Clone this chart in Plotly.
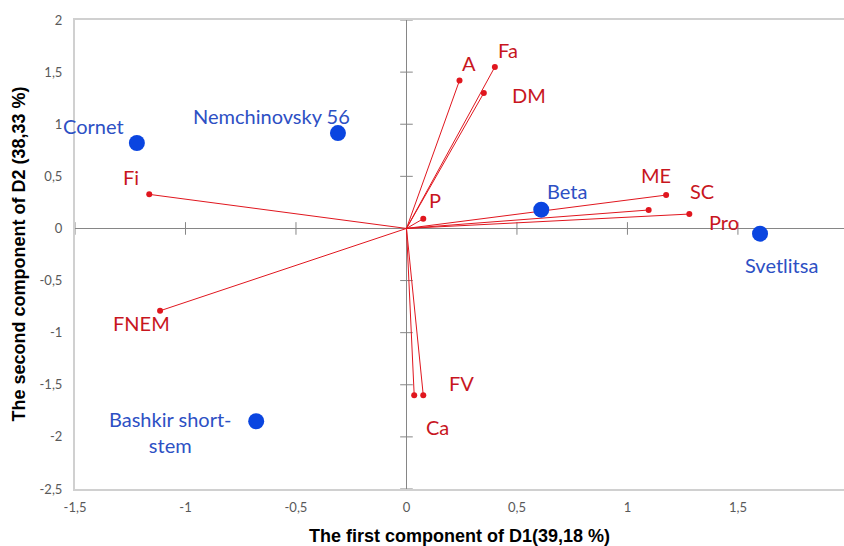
import plotly.graph_objects as go

# ---------------- data ----------------
cultivars = ["Cornet", "Nemchinovsky 56", "Beta", "Svetlitsa", "Bashkir short-<br>stem"]
cult_x = [-1.22, -0.31, 0.61, 1.60, -0.68]
cult_y = [0.82, 0.915, 0.18, -0.05, -1.85]

variables = ["A", "Fa", "DM", "P", "ME", "SC", "Pro", "Fi", "FNEM", "FV", "Ca"]
var_x = [0.24, 0.40, 0.35, 0.076, 1.175, 1.28, 1.096, -1.164, -1.115, 0.076, 0.035]
var_y = [1.42, 1.55, 1.30, 0.093, 0.32, 0.138, 0.177, 0.327, -0.79, -1.60, -1.60]

x_ticks = [-1.5, -1, -0.5, 0, 0.5, 1, 1.5]
x_tick_text = ["-1,5", "-1", "-0,5", "0", "0,5", "1", "1,5"]
y_ticks = [-2.5, -2, -1.5, -1, -0.5, 0, 0.5, 1, 1.5, 2]
y_tick_text = ["-2,5", "-2", "-1,5", "-1", "-0,5", "0", "0,5", "1", "1,5", "2"]

x_title = "The first component of D1(39,18 %)"
y_title = "The second component of D2 (38,33 %)"

# ---------------- styles (label offsets in px) ----------------
cult_label_shift = [(-43, 17), (-66, 17), (26, 19), (21, -31), (-86, -11)]
var_label_shift = [(9, 17), (13, 17), (45, -2), (12, 19), (-10, 20), (13, 23),
                   (75, -12), (-18, 17), (-19, -12), (38, 12), (23, -32)]

FONT = "Lato"
TITLE_FONT = "Liberation Sans"
RED_LINE = "#E0161E"
RED_TEXT = "#C8161E"
BLUE_PT = "#0A45E0"
BLUE_TEXT = "#2D50C4"
AXIS_GREY = "#868686"

fig = go.Figure()

# tick crosses on the zero axes
fig.add_trace(go.Scatter(
    x=x_ticks, y=[0] * len(x_ticks), mode="markers",
    marker=dict(symbol="line-ns", size=9, line=dict(width=1, color=AXIS_GREY)),
    hoverinfo="skip", showlegend=False))
fig.add_trace(go.Scatter(
    x=[0] * len(y_ticks), y=y_ticks, mode="markers",
    marker=dict(symbol="line-ew", size=9, line=dict(width=1, color=AXIS_GREY)),
    hoverinfo="skip", showlegend=False))

# vectors
lx, ly = [], []
for vx, vy in zip(var_x, var_y):
    lx += [0, vx, None]
    ly += [0, vy, None]
fig.add_trace(go.Scatter(x=lx, y=ly, mode="lines",
                         line=dict(color=RED_LINE, width=1),
                         hoverinfo="skip", showlegend=False))
fig.add_trace(go.Scatter(x=var_x, y=var_y, mode="markers",
                         marker=dict(color=RED_LINE, size=6),
                         text=variables, showlegend=False))

# cultivars
fig.add_trace(go.Scatter(x=cult_x, y=cult_y, mode="markers",
                         marker=dict(color=BLUE_PT, size=16),
                         text=cultivars, showlegend=False))

annotations = []
for name, x, y, (dx, dy) in zip(variables, var_x, var_y, var_label_shift):
    annotations.append(dict(x=x, y=y, text=name, showarrow=False,
                            xshift=dx, yshift=dy,
                            font=dict(family=FONT, size=20, color=RED_TEXT)))
for name, x, y, (dx, dy) in zip(cultivars, cult_x, cult_y, cult_label_shift):
    annotations.append(dict(x=x, y=y, text=name, showarrow=False,
                            xshift=dx, yshift=dy, align="center",
                            font=dict(family=FONT, size=20, color=BLUE_TEXT)))

annotations.append(dict(x=0.5, y=0, xref="paper", yref="paper",
                        xanchor="center", yanchor="middle",
                        text="<b>" + x_title + "</b>", showarrow=False,
                        yshift=-47, font=dict(family=TITLE_FONT, size=18, color="#000000")))
annotations.append(dict(x=0, y=0.5, xref="paper", yref="paper",
                        xanchor="center", yanchor="middle",
                        text="<b>" + y_title + "</b>", showarrow=False,
                        xshift=-57, textangle=-90,
                        font=dict(family=TITLE_FONT, size=18, color="#000000")))

fig.update_layout(
    width=844, height=546,
    margin=dict(l=75, r=0, t=20, b=57, autoexpand=False),
    paper_bgcolor="white", plot_bgcolor="white",
    font=dict(family=FONT),
    annotations=annotations,
    hovermode="closest",
)
fig.update_xaxes(
    range=[-1.5, 1.98], tickvals=x_ticks, ticktext=x_tick_text,
    showgrid=False, zeroline=True, zerolinecolor=AXIS_GREY, zerolinewidth=1,
    showline=True, mirror=True, linecolor="#D0D0D0", linewidth=2,
    ticks="", ticklabelstandoff=5, automargin=False,
    tickfont=dict(family=FONT, size=13, color="#595959"),
)
fig.update_yaxes(
    range=[-2.5, 2], tickvals=y_ticks, ticktext=y_tick_text,
    showgrid=False, zeroline=True, zerolinecolor=AXIS_GREY, zerolinewidth=1,
    showline=True, linecolor="#D0D0D0", linewidth=2,
    ticks="", ticklabelstandoff=8, automargin=False,
    tickfont=dict(family=FONT, size=13, color="#595959"),
)

fig.write_html("out.html", config={"displayModeBar": False},
               post_script="document.body.style.margin='0';document.body.style.overflow='hidden';")
